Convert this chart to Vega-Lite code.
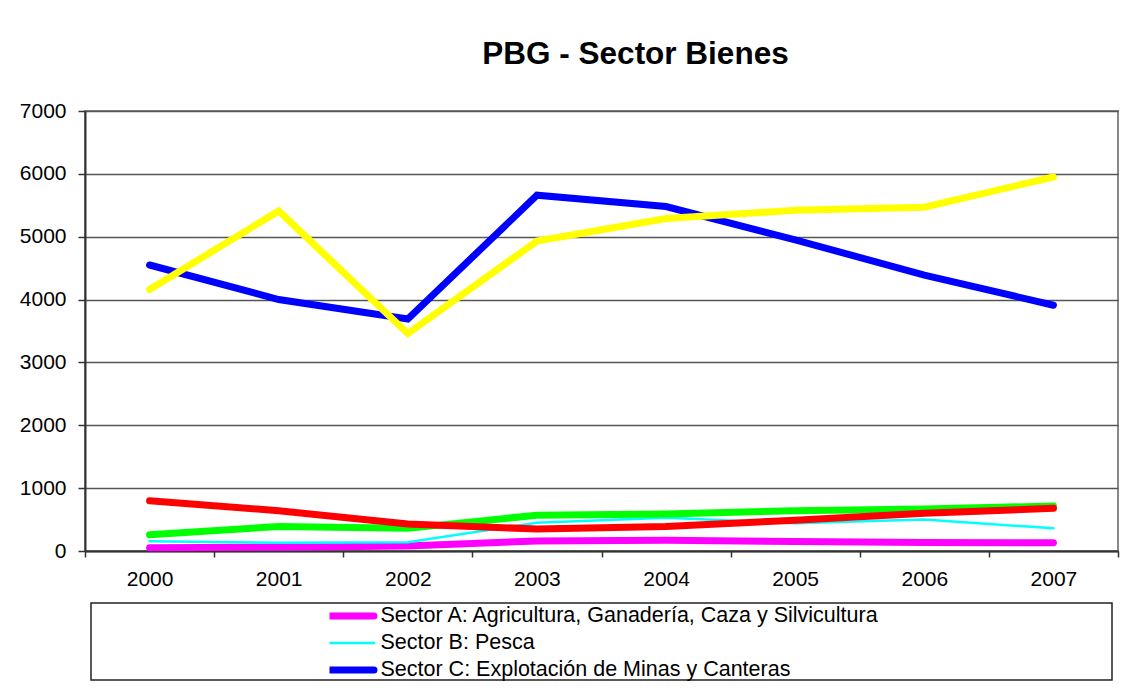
{
  "$schema": "https://vega.github.io/schema/vega-lite/v6.json",
  "padding": {"left": 18, "top": 37, "right": 11, "bottom": 15},
  "background": "white",
  "config": {"font": "Liberation Sans", "view": {"stroke": null}},
  "spacing": 52,
  "center": true,
  "bounds": "flush",
  "vconcat": [
    {
      "width": 1033,
      "height": 440,
      "title": {"text": "PBG - Sector Bienes", "fontSize": 31.5, "fontWeight": "bold", "font": "Liberation Sans", "color": "black", "anchor": "middle", "frame": "group", "dx": 34, "offset": 30},
      "view": {"stroke": "#888", "strokeWidth": 2},
      "data": {"values": [
        {"sector": "Sector A: Agricultura, Ganadería, Caza y Silvicultura", "year": "2000", "value": 50},
        {"sector": "Sector A: Agricultura, Ganadería, Caza y Silvicultura", "year": "2001", "value": 60},
        {"sector": "Sector A: Agricultura, Ganadería, Caza y Silvicultura", "year": "2002", "value": 80},
        {"sector": "Sector A: Agricultura, Ganadería, Caza y Silvicultura", "year": "2003", "value": 160},
        {"sector": "Sector A: Agricultura, Ganadería, Caza y Silvicultura", "year": "2004", "value": 170},
        {"sector": "Sector A: Agricultura, Ganadería, Caza y Silvicultura", "year": "2005", "value": 150},
        {"sector": "Sector A: Agricultura, Ganadería, Caza y Silvicultura", "year": "2006", "value": 135},
        {"sector": "Sector A: Agricultura, Ganadería, Caza y Silvicultura", "year": "2007", "value": 130},
        {"sector": "Sector B: Pesca", "year": "2000", "value": 155},
        {"sector": "Sector B: Pesca", "year": "2001", "value": 130},
        {"sector": "Sector B: Pesca", "year": "2002", "value": 140},
        {"sector": "Sector B: Pesca", "year": "2003", "value": 450},
        {"sector": "Sector B: Pesca", "year": "2004", "value": 530},
        {"sector": "Sector B: Pesca", "year": "2005", "value": 440},
        {"sector": "Sector B: Pesca", "year": "2006", "value": 500},
        {"sector": "Sector B: Pesca", "year": "2007", "value": 360},
        {"sector": "Sector C: Explotación de Minas y Canteras", "year": "2000", "value": 4550},
        {"sector": "Sector C: Explotación de Minas y Canteras", "year": "2001", "value": 4000},
        {"sector": "Sector C: Explotación de Minas y Canteras", "year": "2002", "value": 3690},
        {"sector": "Sector C: Explotación de Minas y Canteras", "year": "2003", "value": 5660},
        {"sector": "Sector C: Explotación de Minas y Canteras", "year": "2004", "value": 5480},
        {"sector": "Sector C: Explotación de Minas y Canteras", "year": "2005", "value": 4950},
        {"sector": "Sector C: Explotación de Minas y Canteras", "year": "2006", "value": 4390},
        {"sector": "Sector C: Explotación de Minas y Canteras", "year": "2007", "value": 3910},
        {"sector": "Sector D: Industria Manufacturera", "year": "2000", "value": 4160},
        {"sector": "Sector D: Industria Manufacturera", "year": "2001", "value": 5410},
        {"sector": "Sector D: Industria Manufacturera", "year": "2002", "value": 3460},
        {"sector": "Sector D: Industria Manufacturera", "year": "2003", "value": 4930},
        {"sector": "Sector D: Industria Manufacturera", "year": "2004", "value": 5290},
        {"sector": "Sector D: Industria Manufacturera", "year": "2005", "value": 5420},
        {"sector": "Sector D: Industria Manufacturera", "year": "2006", "value": 5470},
        {"sector": "Sector D: Industria Manufacturera", "year": "2007", "value": 5950},
        {"sector": "Sector E: Electricidad, Gas y Agua", "year": "2000", "value": 260},
        {"sector": "Sector E: Electricidad, Gas y Agua", "year": "2001", "value": 390},
        {"sector": "Sector E: Electricidad, Gas y Agua", "year": "2002", "value": 360},
        {"sector": "Sector E: Electricidad, Gas y Agua", "year": "2003", "value": 570},
        {"sector": "Sector E: Electricidad, Gas y Agua", "year": "2004", "value": 590},
        {"sector": "Sector E: Electricidad, Gas y Agua", "year": "2005", "value": 640},
        {"sector": "Sector E: Electricidad, Gas y Agua", "year": "2006", "value": 670},
        {"sector": "Sector E: Electricidad, Gas y Agua", "year": "2007", "value": 715},
        {"sector": "Sector F: Construcción", "year": "2000", "value": 800},
        {"sector": "Sector F: Construcción", "year": "2001", "value": 640},
        {"sector": "Sector F: Construcción", "year": "2002", "value": 430},
        {"sector": "Sector F: Construcción", "year": "2003", "value": 350},
        {"sector": "Sector F: Construcción", "year": "2004", "value": 390},
        {"sector": "Sector F: Construcción", "year": "2005", "value": 490},
        {"sector": "Sector F: Construcción", "year": "2006", "value": 600},
        {"sector": "Sector F: Construcción", "year": "2007", "value": 680}
      ]},
      "mark": {"type": "line", "strokeCap": "round"},
      "encoding": {
        "x": {
          "field": "year", "type": "ordinal", "bandPosition": 0.5,
          "scale": {"type": "band", "paddingInner": 0, "paddingOuter": 0},
          "axis": {"title": null, "labelAngle": 0, "tickBand": "extent", "tickSize": 6, "tickColor": "#333", "tickWidth": 1.5, "domainColor": "#333", "domainWidth": 2, "labelFontSize": 21, "labelColor": "black", "labelPadding": 11, "grid": false}
        },
        "y": {
          "field": "value", "type": "quantitative",
          "scale": {"domain": [0, 7000], "nice": false},
          "axis": {"title": null, "values": [0, 1000, 2000, 3000, 4000, 5000, 6000, 7000], "format": "d", "tickSize": 7, "labelPadding": 12, "labelFontSize": 21, "labelColor": "black", "labelOverlap": false, "domainColor": "#333", "domainWidth": 2, "tickColor": "#333", "tickWidth": 1.5, "grid": true, "gridColor": "#555", "gridWidth": 1.5}
        },
        "color": {
          "field": "sector", "type": "nominal",
          "scale": {
            "domain": ["Sector A: Agricultura, Ganadería, Caza y Silvicultura", "Sector B: Pesca", "Sector C: Explotación de Minas y Canteras", "Sector D: Industria Manufacturera", "Sector E: Electricidad, Gas y Agua", "Sector F: Construcción"],
            "range": ["#ff00ff", "#00ffff", "#0000ff", "#ffff00", "#00ff00", "#ff0000"]
          },
          "legend": {
            "orient": "none", "legendX": 244.5, "legendY": 493.5, "title": null,
            "values": ["Sector A: Agricultura, Ganadería, Caza y Silvicultura", "Sector B: Pesca", "Sector C: Explotación de Minas y Canteras"],
            "symbolType": "stroke", "symbolSize": 5400, "symbolStrokeWidth": 7, "symbolOffset": -3, "clipHeight": 23, "rowPadding": 4,
            "labelOffset": 32.5, "labelFontSize": 21.5, "labelFont": "Liberation Sans", "labelColor": "black", "labelLimit": 800, "padding": 0,
            "encode": {"symbols": {"update": {"strokeWidth": {"signal": "datum.value === 'Sector B: Pesca' ? 2.5 : 7"}, "strokeCap": {"value": "round"}, "opacity": {"value": 1}}}}
          }
        },
        "strokeWidth": {"condition": {"test": "datum.sector === 'Sector B: Pesca'", "value": 2.5}, "value": 7}
      }
    },
    {
      "width": 1021,
      "height": 77,
      "data": {"values": []},
      "mark": {"type": "point"},
      "view": {"stroke": "#222", "strokeWidth": 1.5}
    }
  ]
}
